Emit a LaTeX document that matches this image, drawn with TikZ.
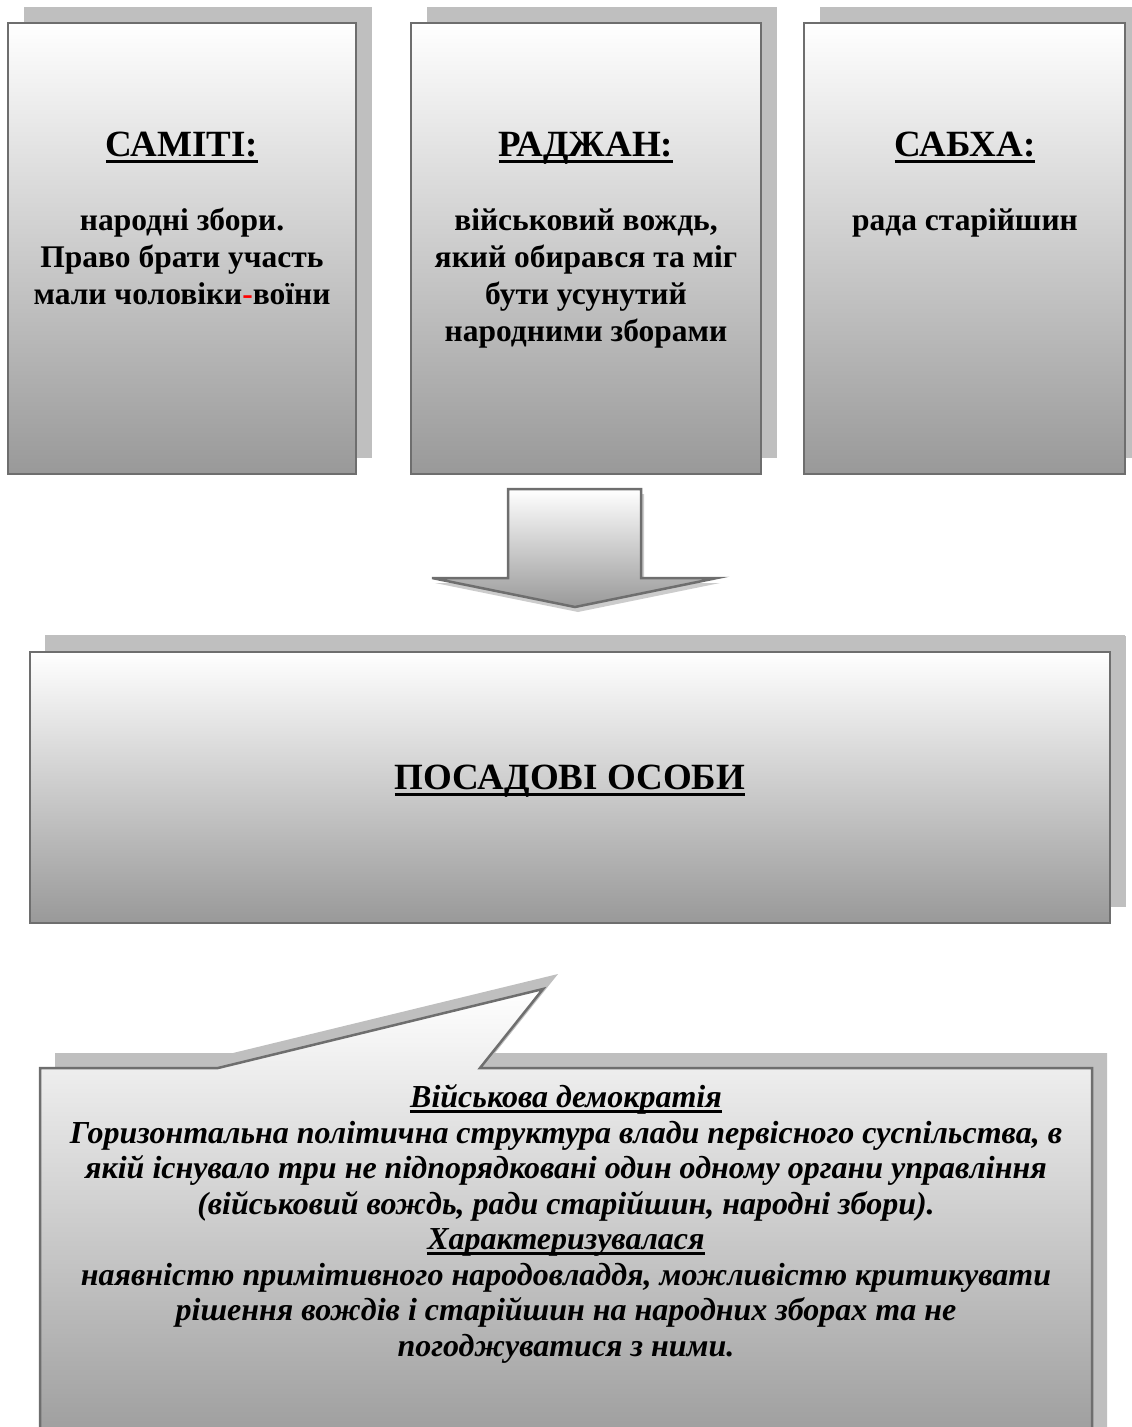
\documentclass[tikz,border=0pt]{standalone}
\usepackage{fontspec}
\setmainfont{Liberation Serif}
\usetikzlibrary{shadows}
\definecolor{edgegray}{HTML}{6E6E6E}
\definecolor{shadegray}{HTML}{999999}
\definecolor{shadowgray}{HTML}{BFBFBF}
% thick underline under a word
\newcommand{\ulbar}[3]{\setbox0\hbox{#3}\rlap{\rule[#1]{\wd0}{#2}}\box0}

\begin{document}
\begin{tikzpicture}[
    x=1pt, y=-1pt,
    panel/.style={draw=edgegray, line width=2.5pt, top color=white, bottom color=shadegray, inner sep=0pt,
      drop shadow={shadow xshift=16pt, shadow yshift=16pt, fill=shadowgray, opacity=1}},
    title/.style={font={\fontsize{37}{44}\selectfont\bfseries}, anchor=base, inner sep=0pt},
    body/.style={font={\fontsize{31.5}{37}\selectfont\bfseries}, align=center, anchor=base, inner sep=0pt},
    note/.style={font={\fontsize{32}{35.5}\selectfont\bfseries\itshape}, align=center, anchor=base, inner sep=0pt}
]
\useasboundingbox (0,0) rectangle (1132,1427);
\clip (0,0) rectangle (1132,1427);

% three bodies of power
\node[panel, minimum width=348pt, minimum height=451pt] (samiti) at (182,248.5) {};
\node[panel, minimum width=350pt, minimum height=451pt] (radzhan) at (586,248.5) {};
\node[panel, minimum width=321pt, minimum height=451pt] (sabkha) at (964.5,248.5) {};

% text nodes sit on the baseline of their last line
\node[title] (samitiT) at (182,156) {\ulbar{-7pt}{3.5pt}{САМІТІ:}};
\node[body] (samitiB) at (182,304) {народні збори.\\Право брати участь\\мали чоловіки\textcolor{red}{-}воїни};
\node[title] (radzhanT) at (586,156) {\ulbar{-7pt}{3.5pt}{РАДЖАН:}};
\node[body] (radzhanB) at (586,341) {військовий вождь,\\який обирався та міг\\бути усунутий\\народними зборами};
\node[title] (sabkhaT) at (965,156) {\ulbar{-7pt}{3.5pt}{САБХА:}};
\node[body] (sabkhaB) at (965,230) {рада старійшин};

% block arrow down
\fill[shadowgray!80, shift={(3,5)}] (508,489) -- (641,489) -- (641,578) -- (717,578) -- (575,607) -- (432,578) -- (508,578) -- cycle;
\path[draw=edgegray, line width=2.5pt, line join=miter, top color=white, bottom color=shadegray]
  (508,489) -- (641,489) -- (641,578) -- (717,578) -- (575,607) -- (432,578) -- (508,578) -- cycle;

% officials
\node[panel, minimum width=1080pt, minimum height=271pt,
  drop shadow={shadow xshift=15pt, shadow yshift=17pt, fill=shadowgray, opacity=1}] (posady) at (570,787.5) {};
\node[title] (posadyT) at (570,789) {\ulbar{-7pt}{3.5pt}{ПОСАДОВІ ОСОБИ}};

% callout with definition
\fill[shadowgray, shift={(15,-15)}] (40,1068) -- (218,1068) -- (543,989) -- (480,1068) -- (1092,1068) -- (1092,1460) -- (40,1460) -- cycle;
\path[draw=edgegray, line width=2.5pt, line join=miter, top color=white, bottom color=shadegray]
  (40,1068) -- (218,1068) -- (543,989) -- (480,1068) -- (1092,1068) -- (1092,1460) -- (40,1460) -- cycle;
\node[note] (demokratiia) at (566,1356) {\ulbar{-5pt}{2.5pt}{Військова демократія}\\
  Горизонтальна політична структура влади первісного суспільства, в\\
  якій існувало три не підпорядковані один одному органи управління\\
  (військовий вождь, ради старійшин, народні збори).\\
  \ulbar{-5pt}{2.5pt}{Характеризувалася}\\
  наявністю примітивного народовладдя, можливістю критикувати\\
  рішення вождів і старійшин на народних зборах та не\\
  погоджуватися з ними.};
\end{tikzpicture}
\end{document}
